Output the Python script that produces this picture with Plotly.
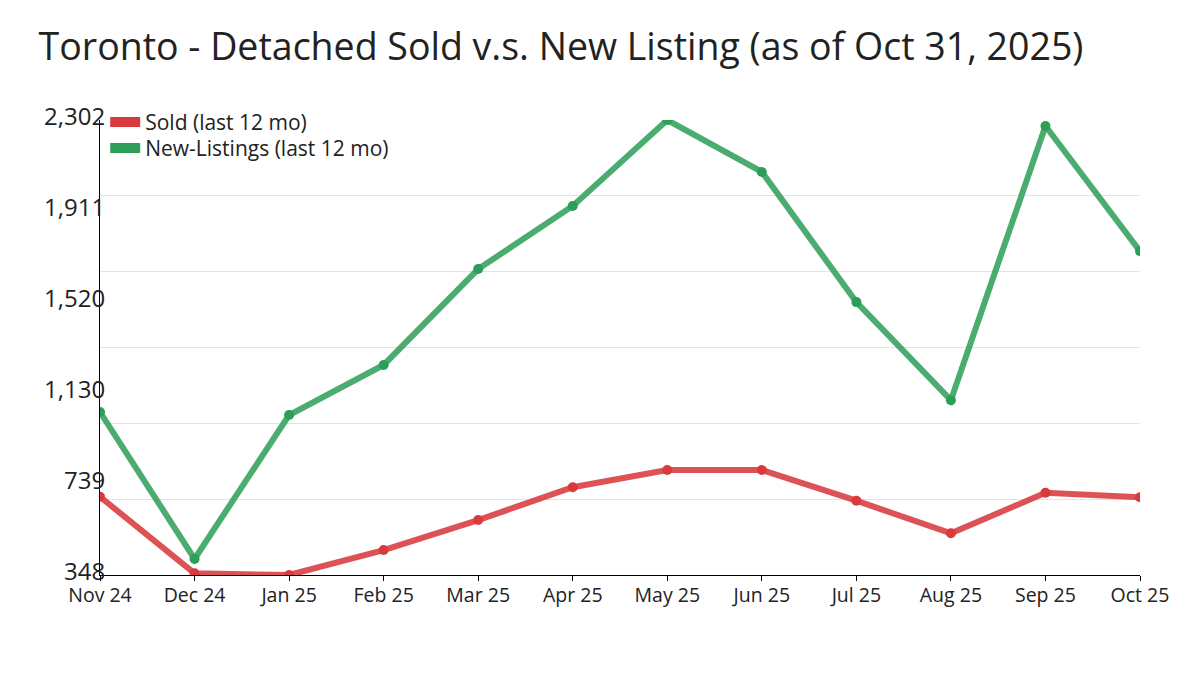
import plotly.graph_objects as go

months = ["Nov 24", "Dec 24", "Jan 25", "Feb 25", "Mar 25", "Apr 25",
          "May 25", "Jun 25", "Jul 25", "Aug 25", "Sep 25", "Oct 25"]
sold = [684, 355, 348, 455, 584, 725, 799, 799, 667, 527, 701, 682]
new_listings = [1048, 417, 1035, 1250, 1662, 1933, 2302, 2079, 1520, 1099, 2276, 1739]

red = "#d83a3d"
green = "#2c9e57"

lo = min(sold + new_listings)
hi = max(sold + new_listings)
label_vals = [lo + (hi - lo) * i / 5 for i in range(6)]
label_text = [f"{round(v):,}" for v in label_vals]
grid_vals = [lo + (hi - lo) * i / 6 for i in range(7)]

fig = go.Figure()
fig.add_trace(go.Scatter(x=months, y=sold, mode="lines+markers", showlegend=False,
                         line=dict(color="rgba(216,58,61,0.88)", width=6),
                         marker=dict(color=red, size=10)))
fig.add_trace(go.Scatter(x=months, y=new_listings, mode="lines+markers", showlegend=False,
                         line=dict(color="rgba(44,158,87,0.85)", width=6),
                         marker=dict(color=green, size=10)))

# legend entries (drawn as thick bars like the original), one legend per row
fig.add_trace(go.Scatter(x=[None], y=[None], mode="lines", name="Sold (last 12 mo)",
                         line=dict(color=red, width=10), yaxis="y2", legend="legend"))
fig.add_trace(go.Scatter(x=[None], y=[None], mode="lines", name="New-Listings (last 12 mo)",
                         line=dict(color=green, width=10), yaxis="y2", legend="legend2"))

legend_style = dict(x=0.005, xanchor="left", yanchor="top",
                    bgcolor="rgba(0,0,0,0)", font=dict(size=21))

fig.update_layout(
    width=1200, height=675,
    paper_bgcolor="white", plot_bgcolor="white",
    font=dict(family="Open Sans", color="#222"),
    margin=dict(l=92, r=68, t=112, b=108, autoexpand=False),
    title=dict(text="Toronto - Detached Sold v.s. New Listing (as of Oct 31, 2025)",
               x=0.0255, xref="container", xanchor="left",
               y=0.942, yref="container", yanchor="middle",
               font=dict(size=37.5, color="#222")),
    legend=dict(y=1.04, **legend_style),
    legend2=dict(y=1.04 - 26 / 455, **legend_style),
    xaxis=dict(type="category", range=[0, len(months) - 1], showgrid=False,
               showline=True, linecolor="black", linewidth=1,
               ticks="outside", ticklen=5, tickcolor="black",
               tickfont=dict(size=19.5), ticklabelstandoff=-2, automargin=False),
    yaxis=dict(range=[lo, hi], tickvals=label_vals, ticktext=label_text,
               showgrid=False, showline=True, linecolor="black", linewidth=1,
               zeroline=False, ticks="", tickfont=dict(size=24),
               ticklabelstandoff=-11, ticklabelshift=-3, automargin=False),
    yaxis2=dict(range=[lo, hi], overlaying="y", tickvals=grid_vals,
                showgrid=True, gridcolor="#e3e3e3", gridwidth=1,
                showticklabels=False, zeroline=False, showline=False,
                automargin=False),
)

fig.write_html("out.html")
